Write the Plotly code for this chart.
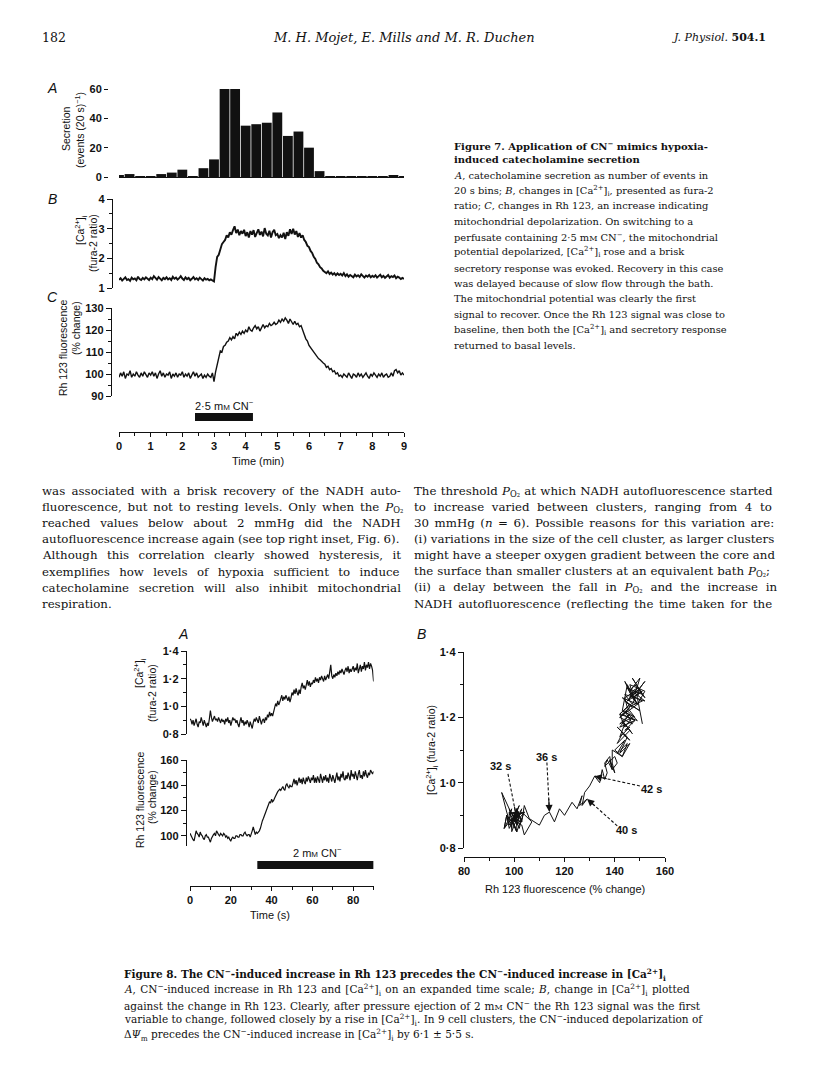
import plotly.graph_objects as go

# The page body has an 8 px margin, so the figure is placed at (8, 8).
OFF = 8
FW, FH = 800, 1072


def px(x):
    return (x - OFF) / FW


def py(y):
    return 1 - (y - OFF) / FH


SERIF = "DejaVu Serif"
SANS = "Liberation Sans"
INK = "#111111"

# ---------------- DATA ----------------
# Figure 7A: catecholamine secretion, events per 20 s bin (bins start at t = 0 min)
fig7_bin_min = 20 / 60
fig7_secretion = [1, 2, 0.5, 0.5, 2, 3, 5, 0.5, 6, 12, 60, 60, 35, 36, 37, 44, 28, 31, 20, 4,
                  0.5, 0.5, 0.5, 0.5, 0.5, 0.5, 0.8, 0.5]

# Figure 7B/C: sampled every 0.05 min from t = 0 to 9 min
fig7_sample_min = 0.05
fig7_ca = [
    1.28, 1.33, 1.25, 1.31, 1.36, 1.27, 1.30, 1.24, 1.35, 1.29, 1.32, 1.26, 1.38, 1.30, 1.27, 1.34, 1.29, 1.36, 1.31, 1.27,
    1.35, 1.30, 1.40, 1.32, 1.28, 1.37, 1.31, 1.26, 1.34, 1.30, 1.36, 1.29, 1.33, 1.27, 1.38, 1.31, 1.35, 1.28, 1.33, 1.40,
    1.32, 1.27, 1.36, 1.30, 1.34, 1.26, 1.31, 1.37, 1.29, 1.33, 1.27, 1.35, 1.30, 1.25, 1.33, 1.28, 1.31, 1.26, 1.29, 1.24,
    1.22, 1.70, 2.05, 2.12, 2.30, 2.48, 2.55, 2.62, 2.78, 2.70, 2.88, 2.80, 2.95, 3.08, 2.85, 2.97, 2.78, 2.92, 2.83, 2.96,
    2.75, 2.88, 2.70, 2.92, 2.80, 2.95, 2.72, 2.86, 2.98, 2.79, 2.90, 2.74, 3.02, 2.83, 2.77, 2.93, 2.70, 2.88, 2.96, 2.78,
    2.82, 2.68, 2.78, 2.70, 2.86, 2.65, 2.88, 2.76, 2.98, 2.82, 3.00, 2.80, 2.92, 2.72, 2.85, 2.70, 2.78, 2.62, 2.55, 2.42,
    2.38, 2.25, 2.18, 2.05, 1.98, 1.85, 1.80, 1.70, 1.66, 1.58, 1.55, 1.50, 1.56, 1.47, 1.52, 1.45, 1.50, 1.43, 1.49, 1.44,
    1.48, 1.42, 1.50, 1.40, 1.46, 1.38, 1.44, 1.41, 1.36, 1.45, 1.39, 1.43, 1.37, 1.46, 1.40, 1.35, 1.42, 1.38, 1.44, 1.36,
    1.41, 1.37, 1.43, 1.35, 1.40, 1.45, 1.36, 1.41, 1.34, 1.39, 1.44, 1.35, 1.40, 1.37, 1.42, 1.33, 1.38, 1.35, 1.30, 1.34, 1.31,
]
fig7_rh = [
    98.5, 100.5, 99.0, 101.0, 98.0, 100.0, 99.5, 101.5, 98.5, 100.0, 99.0, 101.0, 99.5, 98.5, 100.5, 99.0, 101.0, 100.0, 98.5, 100.5,
    99.5, 101.0, 99.0, 100.5, 98.0, 100.0, 101.5, 99.0, 100.5, 98.5, 100.0, 99.5, 101.0, 98.0, 100.0, 99.0, 100.5, 98.5, 100.0, 99.5,
    101.0, 98.5, 100.0, 99.0, 100.5, 98.0, 99.5, 101.0, 99.0, 100.5, 98.5, 99.5, 100.0, 98.0, 99.5, 98.5, 100.0, 99.0, 98.5, 100.5,
    96.5, 101.0, 104.5, 108.0, 110.5, 110.0, 112.5, 113.0, 114.5, 115.0, 116.5, 115.5, 117.0, 116.0, 118.5, 117.5, 119.0, 118.0, 119.5, 118.5,
    120.0, 119.0, 121.5, 120.0, 119.5, 121.0, 122.0, 120.5, 121.5, 119.5, 121.0, 122.5, 121.0, 122.0, 121.5, 123.0, 122.0, 122.5, 123.5, 122.5,
    123.0, 124.5, 123.5, 125.0, 124.0, 125.5, 124.5, 123.0, 125.0, 123.5, 122.5, 124.0, 122.5, 123.0, 121.5, 122.0, 119.5, 118.0, 116.0, 115.0,
    113.0, 112.0, 110.5, 110.0, 108.5, 108.0, 107.0, 106.5, 105.5, 105.0, 104.5, 103.0, 103.5, 102.0, 102.5, 101.0, 101.5, 100.0, 100.5, 99.0,
    99.5, 98.5, 100.0, 99.0, 98.5, 100.5, 99.0, 98.0, 100.0, 99.5, 98.5, 100.5, 99.0, 100.0, 98.5, 99.5, 100.5, 99.0, 98.0, 100.0,
    99.0, 100.5, 99.5, 98.5, 100.0, 99.0, 100.5, 98.5, 99.5, 100.0, 98.5, 99.0, 100.5, 99.0, 101.5, 102.0, 100.5, 101.5, 99.5, 100.5, 99.5,
]
fig7_cn_min = [2.4, 4.23]          # 2.5 mM CN- application (min)
fig7_time_ticks = [0, 1, 2, 3, 4, 5, 6, 7, 8, 9]
fig7_sec_ticks = [0, 20, 40, 60]
fig7_ca_ticks = [1, 2, 3, 4]
fig7_rh_ticks = [90, 100, 110, 120, 130]

# Figure 8A: sampled every 0.5 s from t = 0 to 90 s (8B plots the same samples)
fig8_sample_s = 0.5
fig8_ca = [
    0.91, 0.90, 0.87, 0.90, 0.86, 0.89, 0.91, 0.87, 0.85, 0.89, 0.88, 0.92, 0.89, 0.86, 0.90, 0.87, 0.85, 0.88, 0.86, 0.91,
    0.97, 0.92, 0.89, 0.91, 0.93, 0.90, 0.91, 0.89, 0.92, 0.90, 0.88, 0.91, 0.89, 0.90, 0.87, 0.91, 0.89, 0.92, 0.88, 0.90,
    0.86, 0.89, 0.92, 0.90, 0.91, 0.88, 0.90, 0.87, 0.85, 0.89, 0.92, 0.88, 0.90, 0.86, 0.89, 0.87, 0.90, 0.88, 0.85, 0.89,
    0.87, 0.84, 0.88, 0.91, 0.89, 0.92, 0.90, 0.88, 0.93, 0.89, 0.87, 0.90, 0.91, 0.88, 0.92, 0.90, 0.94, 0.92, 0.96, 0.93,
    0.95, 0.93, 0.97, 0.99, 1.02, 1.00, 1.04, 1.01, 1.03, 1.06, 1.08, 1.04, 1.07, 1.05, 1.08, 1.06, 1.04, 1.07, 1.03, 1.06,
    1.10, 1.08, 1.12, 1.09, 1.13, 1.10, 1.08, 1.12, 1.09, 1.14, 1.17, 1.13, 1.15, 1.12, 1.16, 1.19, 1.15, 1.18, 1.14, 1.17,
    1.16, 1.19, 1.17, 1.21, 1.18, 1.20, 1.17, 1.21, 1.19, 1.22, 1.20, 1.18, 1.22, 1.19, 1.21, 1.23, 1.20, 1.24, 1.30, 1.22,
    1.20, 1.23, 1.21, 1.24, 1.22, 1.25, 1.23, 1.26, 1.24, 1.27, 1.25, 1.23, 1.26, 1.28, 1.25, 1.29, 1.24, 1.27, 1.25, 1.28,
    1.29, 1.25, 1.28, 1.26, 1.31, 1.24, 1.28, 1.30, 1.25, 1.29, 1.27, 1.32, 1.26, 1.30, 1.28, 1.32, 1.27, 1.31, 1.29, 1.26, 1.18,
]
fig8_rh = [
    102, 100, 98, 97, 96, 99, 104, 102, 101, 99, 103, 101, 100, 98, 97, 100, 101, 99, 99, 97,
    95, 98, 100, 101, 102, 100, 104, 102, 101, 100, 102, 101, 100, 102, 101, 99, 100, 98, 99, 97,
    96, 98, 99, 98, 98, 100, 100, 99, 99, 101, 101, 100, 100, 102, 103, 101, 100, 101, 101, 99,
    103, 104, 107, 103, 101, 103, 102, 103, 104, 106, 110, 112, 114, 116, 118, 120, 123, 125, 127, 126,
    129, 127, 128, 130, 132, 134, 135, 136, 137, 136, 138, 139, 137, 136, 140, 141, 139, 138, 140, 139,
    139, 143, 145, 141, 144, 140, 143, 146, 142, 145, 141, 146, 143, 141, 146, 143, 147, 144, 142, 146,
    144, 148, 142, 146, 142, 147, 144, 142, 149, 145, 142, 147, 144, 148, 143, 146, 142, 149, 145, 143,
    148, 145, 142, 146, 150, 144, 147, 143, 149, 146, 151, 145, 144, 148, 145, 150, 147, 144, 152, 147,
    149, 145, 151, 147, 144, 149, 152, 146, 148, 145, 151, 147, 152, 148, 146, 150, 148, 152, 150, 149, 151,
]
fig8_cn_s = [33, 90]               # 2 mM CN- pressure ejection (s)
fig8_time_ticks = [0, 20, 40, 60, 80]
fig8_ca_ticks = [0.8, 1.0, 1.2, 1.4]
fig8_ca_ticktext = ["0·8", "1·0", "1·2", "1·4"]
fig8_rh_ticks = [100, 120, 140, 160]
fig8b_rh_ticks = [80, 100, 120, 140, 160]
fig8b_marks_s = [32, 36, 40, 42]
fig8b_mark_labels = ["32 s", "36 s", "40 s", "42 s"]

# ---------------- TEXT ----------------
MM = "m<span style='font-size:8px'>M</span>"
CA = "[Ca<sup>2+</sup>]<sub>i</sub>"
PO2 = "<i>P</i><sub>O₂</sub>"

fig7_title = ["Figure 7. Application of CN<sup>−</sup> mimics hypoxia-",
              "induced catecholamine secretion"]
fig7_body = [
    "<i>A</i>, catecholamine secretion as number of events in",
    "20 s bins; <i>B</i>, changes in " + CA + ", presented as fura-2",
    "ratio; <i>C</i>, changes in Rh 123, an increase indicating",
    "mitochondrial depolarization. On switching to a",
    "perfusate containing 2·5 " + MM + " CN<sup>−</sup>, the mitochondrial",
    "potential depolarized, " + CA + " rose and a brisk",
    "secretory response was evoked. Recovery in this case",
    "was delayed because of slow flow through the bath.",
    "The mitochondrial potential was clearly the first",
    "signal to recover. Once the Rh 123 signal was close to",
    "baseline, then both the " + CA + " and secretory response",
    "returned to basal levels.",
]
left_col = [
    "was associated with a brisk recovery of the NADH auto-",
    "fluorescence, but not to resting levels. Only when the " + PO2,
    "reached values below about 2 mmHg did the NADH",
    "autofluorescence increase again (see top right inset, Fig. 6).",
    "Although this correlation clearly showed hysteresis, it",
    "exemplifies how levels of hypoxia sufficient to induce",
    "catecholamine secretion will also inhibit mitochondrial",
    "respiration.",
]
right_col = [
    "The threshold " + PO2 + " at which NADH autofluorescence started",
    "to increase varied between clusters, ranging from 4 to",
    "30 mmHg (<i>n</i> = 6). Possible reasons for this variation are:",
    "(i) variations in the size of the cell cluster, as larger clusters",
    "might have a steeper oxygen gradient between the core and",
    "the surface than smaller clusters at an equivalent bath " + PO2 + ";",
    "(ii) a delay between the fall in " + PO2 + " and the increase in",
    "NADH autofluorescence (reflecting the time taken for the",
]
fig8_caption = [
    "<b>Figure 8. The CN<sup>−</sup>-induced increase in Rh 123 precedes the CN<sup>−</sup>-induced increase in " + CA + "</b>",
    "<i>A</i>, CN<sup>−</sup>-induced increase in Rh 123 and " + CA + " on an expanded time scale; <i>B</i>, change in " + CA + " plotted",
    "against the change in Rh 123. Clearly, after pressure ejection of 2 " + MM + " CN<sup>−</sup> the Rh 123 signal was the first",
    "variable to change, followed closely by a rise in " + CA + ". In 9 cell clusters, the CN<sup>−</sup>-induced depolarization of",
    "Δ<i>Ψ</i><sub>m</sub> precedes the CN<sup>−</sup>-induced increase in " + CA + " by 6·1 ± 5·5 s.",
]
# extra word spacing (px) used to justify the text columns
left_ws = [2.6, 2.1, 6.0, -0.5, 5.7, 5.6, 6.0, 0]
right_ws = [0.5, 3.9, 1.8, 0.0, 0.0, 0.2, 4.0, 1.8]
fig8_ws = [0, 1.0, 0.5, 0, 0]


def justify(line, ws):
    if not ws:
        return line
    return "<span style='word-spacing:%.1fpx'>" % ws + line + "</span>"


# ---------------- FIGURE ----------------
fig = go.Figure()

fig.add_trace(go.Bar(x0=0, dx=fig7_bin_min, y=fig7_secretion, width=0.31,
                     marker=dict(color=INK, line=dict(width=0)), xaxis="x", yaxis="y"))
fig.add_trace(go.Scatter(x0=0, dx=fig7_sample_min, y=fig7_ca, mode="lines",
                         line=dict(color=INK, width=1.9), xaxis="x2", yaxis="y2"))
fig.add_trace(go.Scatter(x0=0, dx=fig7_sample_min, y=fig7_rh, mode="lines",
                         line=dict(color=INK, width=1.4), xaxis="x3", yaxis="y3"))
fig.add_trace(go.Scatter(x0=0, dx=fig8_sample_s, y=fig8_ca, mode="lines",
                         line=dict(color=INK, width=1.2), xaxis="x4", yaxis="y4"))
fig.add_trace(go.Scatter(x0=0, dx=fig8_sample_s, y=fig8_rh, mode="lines",
                         line=dict(color=INK, width=1.2), xaxis="x5", yaxis="y5"))
fig.add_trace(go.Scatter(x=fig8_rh, y=fig8_ca, mode="lines",
                         line=dict(color=INK, width=1.0), xaxis="x6", yaxis="y6"))

# 8B time markers (label placement in data units, arrow tips taken from the data)
mark_label_pos = [(94.6, 1.05), (113.0, 1.08), (144.5, 0.855), (154.5, 0.98)]
mark_line_start = [(97.5, 1.027), (113.0, 1.062), (141.0, 0.868), (150.0, 0.99)]
annotations = []
for t, lab, (lx, ly), (sx, sy) in zip(fig8b_marks_s, fig8b_mark_labels, mark_label_pos, mark_line_start):
    i = int(round(t / fig8_sample_s))
    tx, ty = fig8_rh[i], fig8_ca[i]
    fig.add_trace(go.Scatter(x=[sx, tx], y=[sy, ty], mode="lines",
                             line=dict(color=INK, width=1.1, dash="3px,2px"), xaxis="x6", yaxis="y6"))
    annotations.append(dict(x=tx, y=ty, xref="x6", yref="y6", ax=tx + 0.3 * (sx - tx), ay=ty + 0.3 * (sy - ty),
                            axref="x6", ayref="y6", showarrow=True, arrowhead=2, arrowsize=1.3,
                            arrowwidth=1.1, arrowcolor=INK, text=""))
    annotations.append(dict(x=lx, y=ly, xref="x6", yref="y6", text=lab, showarrow=False,
                            font=dict(family=SANS, size=11, color=INK, weight="bold")))

TICKFONT = dict(family=SANS, size=11, color=INK, weight="bold")


def base_axis(**kw):
    d = dict(showgrid=False, zeroline=False, linecolor=INK, linewidth=1.4, ticks="outside",
             ticklen=5, tickwidth=1.4, tickcolor=INK, tickfont=TICKFONT, showline=True,
             fixedrange=True)
    d.update(kw)
    return d


def minor(dt, tick0=0):
    return dict(dtick=dt, tick0=tick0, ticks="outside", ticklen=3, tickwidth=1.2,
                tickcolor=INK, showgrid=False)


layout_axes = dict(
    # Fig 7A
    xaxis=base_axis(domain=[px(119), px(404)], range=[0, 9], anchor="y", ticks="",
                    showticklabels=False),
    yaxis=base_axis(domain=[py(177), py(89)], range=[0, 60], anchor="free", position=px(108),
                    showline=False, tickmode="array", tickvals=fig7_sec_ticks, ticklen=4),
    # Fig 7B
    xaxis2=dict(domain=[px(119), px(404)], range=[0, 9], anchor="y2", visible=False, fixedrange=True),
    yaxis2=base_axis(domain=[py(288), py(199)], range=[1, 4], anchor="free", position=px(112),
                     tickmode="array", tickvals=fig7_ca_ticks, minor=minor(0.5)),
    # Fig 7C (+ time axis)
    xaxis3=base_axis(domain=[px(119), px(404)], range=[0, 9], anchor="free", position=py(432),
                     tickmode="array", tickvals=fig7_time_ticks, minor=minor(0.5), ticklen=4),
    yaxis3=base_axis(domain=[py(396), py(308)], range=[90, 130], anchor="free", position=px(111),
                     tickmode="array", tickvals=fig7_rh_ticks, minor=minor(5)),
    # Fig 8A Ca
    xaxis4=dict(domain=[px(190), px(373.6)], range=[0, 90], anchor="y4", visible=False, fixedrange=True),
    yaxis4=base_axis(domain=[py(734), py(651)], range=[0.8, 1.4], anchor="free", position=px(186),
                     tickmode="array", tickvals=fig8_ca_ticks, ticktext=fig8_ca_ticktext,
                     minor=minor(0.1)),
    # Fig 8A Rh + time axis
    xaxis5=base_axis(domain=[px(190), px(373.6)], range=[0, 90], anchor="free", position=py(886),
                     tickmode="array", tickvals=fig8_time_ticks, minor=minor(10), ticklen=4),
    yaxis5=base_axis(domain=[py(846), py(760)], range=[92, 160], anchor="free", position=px(186),
                     tickmode="array", tickvals=fig8_rh_ticks, minor=minor(10)),
    # Fig 8B
    xaxis6=base_axis(domain=[px(464), px(665)], range=[80, 160], anchor="free", position=py(857),
                     tickmode="array", tickvals=fig8b_rh_ticks, minor=minor(10), ticklen=4),
    yaxis6=base_axis(domain=[py(848), py(652)], range=[0.8, 1.4], anchor="free", position=px(463),
                     tickmode="array", tickvals=fig8_ca_ticks, ticktext=fig8_ca_ticktext,
                     minor=minor(0.1)),
)


def txt(x, y, text, family=SERIF, size=12, xanchor="left", angle=0, weight="normal"):
    return dict(x=px(x), y=py(y), xref="paper", yref="paper", text=text, showarrow=False,
                xanchor=xanchor, yanchor="middle", textangle=angle,
                font=dict(family=family, size=size, color=INK, weight=weight))


# header
annotations.append(txt(40, 37, "182", size=12.5))
annotations.append(txt(404, 37, "<i>M. H. Mojet, E. Mills and M. R. Duchen</i>", size=13, xanchor="center"))
annotations.append(txt(768, 37, "<i>J. Physiol.</i> <b>504.1</b>", size=11, xanchor="right"))

# figure 7 labels
for lab, yy in (("A", 88), ("B", 199), ("C", 297)):
    annotations.append(txt(52, yy, "<i>" + lab + "</i>", family=SANS, size=14, xanchor="center"))
annotations.append(txt(66, 128, "Secretion", SANS, 10.5, "center", -90))
annotations.append(txt(79, 130, "(events (20 s)<sup>−1</sup>)", SANS, 10.5, "center", -90))
annotations.append(txt(81, 230, CA, SANS, 10.5, "center", -90))
annotations.append(txt(93, 243, "(fura-2 ratio)", SANS, 10.5, "center", -90))
annotations.append(txt(63, 348, "Rh 123 fluorescence", SANS, 10.5, "center", -90))
annotations.append(txt(76, 328, "(% change)", SANS, 10.5, "center", -90))
annotations.append(txt(224, 405, "2·5 " + MM + " CN<sup>−</sup>", SANS, 11, "center"))
annotations.append(txt(258, 461, "Time (min)", SANS, 11, "center"))

# figure 7 caption
annotations.append(txt(452, 145, fig7_title[0], SERIF, 10, weight="bold"))
annotations.append(txt(452, 159, fig7_title[1], SERIF, 10, weight="bold"))
for k, line in enumerate(fig7_body):
    annotations.append(txt(452, 175 + 15.5 * k, line, SERIF, 9.9))

# body text (justified columns)
for k, (line, ws) in enumerate(zip(left_col, left_ws)):
    annotations.append(txt(40, 491 + 16.1 * k, justify(line, ws), SERIF, 11.8))
for k, (line, ws) in enumerate(zip(right_col, right_ws)):
    annotations.append(txt(412, 491 + 16.1 * k, justify(line, ws), SERIF, 11.8))

# figure 8 labels
annotations.append(txt(183, 634, "<i>A</i>", SANS, 14, "center"))
annotations.append(txt(422, 634, "<i>B</i>", SANS, 14, "center"))
annotations.append(txt(140, 673, CA, SANS, 10.5, "center", -90))
annotations.append(txt(152, 693, "(fura-2 ratio)", SANS, 10.5, "center", -90))
annotations.append(txt(140, 800, "Rh 123 fluorescence", SANS, 10.5, "center", -90))
annotations.append(txt(152, 797, "(% change)", SANS, 10.5, "center", -90))
annotations.append(txt(317, 852, "2 " + MM + " CN<sup>−</sup>", SANS, 11, "center"))
annotations.append(txt(270, 915, "Time (s)", SANS, 11, "center"))
annotations.append(txt(432, 750, CA + " (fura-2 ratio)", SANS, 10.5, "center", -90))
annotations.append(txt(565, 889, "Rh 123 fluorescence (% change)", SANS, 11, "center"))

# figure 8 caption
for k, (line, ws) in enumerate(zip(fig8_caption, fig8_ws)):
    annotations.append(txt(122, 975 + 15 * k, justify(line, ws), SERIF, 10.5))

shapes = [
    dict(type="rect", xref="x3", yref="paper", x0=fig7_cn_min[0], x1=fig7_cn_min[1],
         y0=py(421), y1=py(413), fillcolor=INK, line=dict(width=0)),
    dict(type="rect", xref="x5", yref="paper", x0=fig8_cn_s[0], x1=fig8_cn_s[1],
         y0=py(869), y1=py(861), fillcolor=INK, line=dict(width=0)),
]

fig.update_layout(
    width=FW, height=FH, margin=dict(l=0, r=0, t=0, b=0),
    paper_bgcolor="white", plot_bgcolor="white", template="none",
    showlegend=False, hovermode=False,
    annotations=annotations, shapes=shapes,
    **layout_axes,
)

fig.write_html("out.html")
